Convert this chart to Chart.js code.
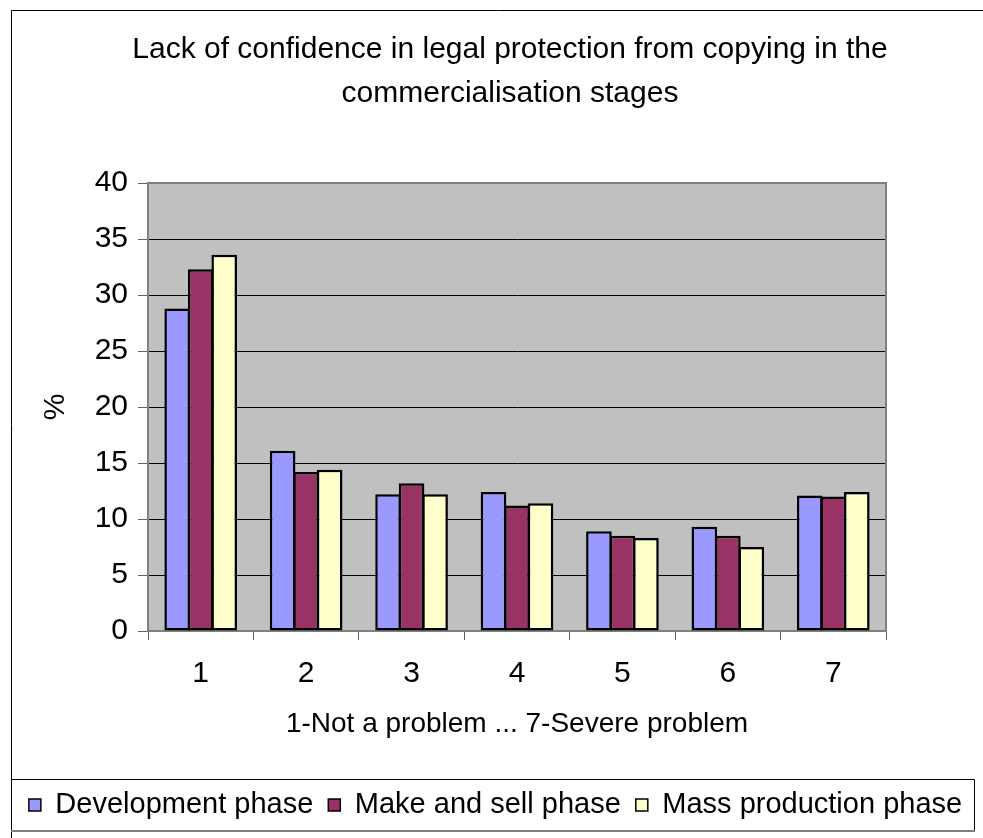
<!DOCTYPE html>
<html><head><meta charset="utf-8">
<script src="https://cdn.jsdelivr.net/npm/chart.js@4.4.0/dist/chart.umd.min.js"></script>
<style>html,body{margin:0;padding:0;background:#fff;overflow:hidden;} #wrap{width:983px;height:838px;}</style>
</head><body><div id="wrap"><canvas id="c" width="983" height="838"></canvas></div>
<script>
const categories = ['1', '2', '3', '4', '5', '6', '7'];
const developmentPhase = [28.8, 16.1, 12.2, 12.4, 8.9, 9.3, 12.1];
const makeAndSellPhase = [32.3, 14.2, 13.2, 11.2, 8.5, 8.5, 12.0];
const massProductionPhase = [33.6, 14.4, 12.2, 11.4, 8.3, 7.5, 12.4];
const seriesNames = ['Development phase', 'Make and sell phase', 'Mass production phase'];
const seriesColors = ['#9999FF', '#993366', '#FFFFCC'];
const yTicks = [0, 5, 10, 15, 20, 25, 30, 35, 40];
const titleLines = ['Lack of confidence in legal protection from copying in the', 'commercialisation stages'];
const xTitle = '1-Not a problem ... 7-Severe problem';
const yTitle = '%';

const FONT = "'Liberation Sans', Arial, Helvetica, sans-serif";
Chart.defaults.font.family = FONT;
Chart.defaults.color = '#000';

const decor = {
  id: 'decor',
  afterLayout(chart) {
    const t = chart.titleBlock;
    if (t) { t.left += 29; }
  },
  beforeDraw(chart) {
    const ctx = chart.ctx, a = chart.chartArea;
    ctx.save();
    ctx.fillStyle = '#fff';
    ctx.fillRect(0, 0, chart.width, chart.height);
    ctx.fillStyle = '#C0C0C0';
    ctx.fillRect(a.left, a.top, a.right - a.left, a.bottom - a.top);
    ctx.strokeStyle = '#000';
    ctx.lineWidth = 1;
    ctx.beginPath();
    ctx.moveTo(11.5, chart.height);
    ctx.lineTo(11.5, 10.5);
    ctx.lineTo(chart.width, 10.5);
    ctx.stroke();
    const L = chart.legend;
    const y1 = Math.round(L.top + 3.5) + 0.5, y2 = Math.round(L.bottom + 1);
    ctx.beginPath();
    ctx.moveTo(11.5, y2); ctx.lineTo(11.5, y1); ctx.lineTo(974.5, y1); ctx.lineTo(974.5, y2);
    ctx.stroke();
    ctx.strokeStyle = '#808080';
    ctx.lineWidth = 2;
    ctx.beginPath();
    ctx.moveTo(11, y2); ctx.lineTo(975, y2);
    ctx.stroke();
    ctx.restore();
  },
  beforeDatasetsDraw(chart) {
    const ctx = chart.ctx, a = chart.chartArea;
    ctx.save();
    ctx.strokeStyle = '#808080';
    ctx.lineWidth = 2;
    ctx.strokeRect(a.left, a.top, a.right - a.left, a.bottom - a.top);
    ctx.restore();
  }
};

new Chart(document.getElementById('c'), {
  type: 'bar',
  data: {
    labels: categories,
    datasets: [
      { label: seriesNames[0], data: developmentPhase, backgroundColor: seriesColors[0] },
      { label: seriesNames[1], data: makeAndSellPhase, backgroundColor: seriesColors[1] },
      { label: seriesNames[2], data: massProductionPhase, backgroundColor: seriesColors[2] }
    ]
  },
  options: {
    responsive: false,
    devicePixelRatio: 1,
    animation: false,
    datasets: {
      bar: { borderColor: '#000', borderWidth: 2.5, borderSkipped: false, categoryPercentage: 0.669, barPercentage: 1.09 }
    },
    layout: { padding: { left: 8, right: 0, top: 10, bottom: 8.5 } },
    plugins: {
      tooltip: { enabled: false },
      title: {
        display: true,
        text: titleLines,
        color: '#000',
        font: { size: 30, weight: 'normal', lineHeight: 1.4667 },
        padding: { top: 17.6, bottom: 67.4 }
      },
      legend: {
        display: true,
        position: 'bottom',
        labels: {
          color: '#000',
          font: { size: 29 },
          boxWidth: 12,
          boxHeight: 12,
          padding: 15,
          generateLabels(chart) {
            const items = Chart.defaults.plugins.legend.labels.generateLabels(chart);
            items.forEach(it => { it.lineWidth = 1.5; it.strokeStyle = '#000'; });
            return items;
          }
        }
      }
    },
    scales: {
      x: {
        grid: { display: true, drawOnChartArea: false, drawTicks: true, tickLength: 9, tickColor: '#606060', offset: true },
        border: { display: true, color: '#808080', width: 1 },
        ticks: { font: { size: 30 }, color: '#000', padding: 15.3, maxRotation: 0 },
        title: { display: true, text: xTitle, color: '#000', font: { size: 28 }, padding: { top: 0, bottom: 34 } },
        afterFit(s) { s.height = 144.5; }
      },
      y: {
        min: 0, max: 40,
        afterBuildTicks(s) { s.ticks = yTicks.map(v => ({ value: v })); },
        grid: { color: '#000', lineWidth: 1, drawTicks: true, tickLength: 10, tickColor: '#606060' },
        border: { display: true, color: '#808080', width: 1 },
        ticks: { font: { size: 30 }, color: '#000', padding: 10 },
        title: { display: true, text: yTitle, color: '#000', font: { size: 30 }, padding: { top: 30, bottom: 0 } },
        afterFit(s) { s.width = 140; }
      },
      yR: {
        position: 'right',
        display: true,
        grid: { display: false, drawTicks: false },
        border: { display: false },
        ticks: { display: false },
        afterFit(s) { s.width = 97; }
      }
    }
  },
  plugins: [decor]
});
</script>
</body></html>
